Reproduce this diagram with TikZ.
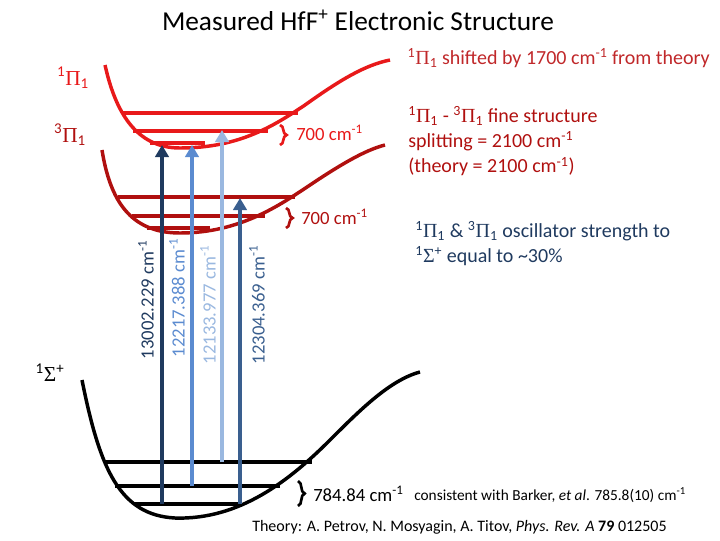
\documentclass[tikz,border=0pt]{standalone}
\usepackage{fontspec}
\setmainfont{Carlito}
\newfontfamily\serifgk{Liberation Serif}
\usetikzlibrary{decorations.pathreplacing,arrows.meta}
\definecolor{brightred}{HTML}{E8191A}
\definecolor{darkred}{HTML}{B0100F}
\definecolor{navy}{HTML}{1F3A5F}
\definecolor{midblue}{HTML}{5B8BD0}
\definecolor{lightblue}{HTML}{9AB8E0}
\definecolor{steel}{HTML}{3A5F8F}
\definecolor{txtred}{HTML}{C0282A}
\newcommand{\PI}{{\serifgk Π}}
\newcommand{\SIG}{{\serifgk Σ}}
\newcommand{\cmi}{cm\textsuperscript{-1}}
\begin{document}
\begin{tikzpicture}[x=0.75pt,y=-0.75pt,
  curve/.style={line width=2.6pt},
  lvl/.style={line width=2.6pt},
  trans/.style={line width=3pt,-{Triangle[length=9pt,width=10pt]}},
  brc/.style={decorate,decoration={brace,amplitude=5pt},line width=2pt},
  lbl/.style={font=\fontsize{14}{16}\selectfont,inner sep=0pt},
  st/.style={font=\fontsize{16}{18}\selectfont,inner sep=0pt}]
\useasboundingbox (0,0) rectangle (720,540);
\node (title) at (358,20) {\fontsize{20.5}{24}\selectfont Measured HfF\textsuperscript{+} Electronic Structure};
% black curve
\draw[curve,black] (82,380) .. controls (100,470) and (120,515) .. (175,518) .. controls (240,520) and (290,480) .. (330,440) .. controls (360,410) and (390,380) .. (420,372);
\draw[lvl] (104,462) -- (312,462);
\draw[lvl] (115,486) -- (280,486);
\draw[lvl] (135,504) -- (240,504);
% dark red curve
\draw[curve,darkred] (102,150) .. controls (110,200) and (130,233) .. (180,233) .. controls (240,233) and (280,205) .. (310,185) .. controls (340,165) and (365,150) .. (385,145);
\draw[lvl,darkred] (118,197) -- (295,197);
\draw[lvl,darkred] (132,216) -- (265,216);
\draw[lvl,darkred] (147,228) -- (210,228);
% bright red curve
\draw[curve,brightred] (105,65) .. controls (115,110) and (135,148) .. (180,148) .. controls (240,148) and (275,125) .. (305,105) .. controls (340,80) and (365,65) .. (390,60);
\draw[lvl,brightred] (122,113) -- (298,113);
\draw[lvl,brightred] (133,131) -- (268,131);
\draw[lvl,brightred] (150,143) -- (205,143);
% transitions
\coordinate (a1s) at (162,504); \coordinate (a1e) at (162,145);
\coordinate (a2s) at (192,486); \coordinate (a2e) at (192,145);
\coordinate (a3s) at (222,462); \coordinate (a3e) at (222,130);
\coordinate (a4s) at (240,504); \coordinate (a4e) at (240,198);
\draw[trans,navy] (a1s) -- (a1e);
\draw[trans,midblue] (a2s) -- (a2e);
\draw[trans,lightblue] (a3s) -- (a3e);
\draw[trans,steel] (a4s) -- (a4e);
\node[lbl,rotate=90,navy] (l1) at (146,300) {13002.229 \cmi};
\node[lbl,rotate=90,midblue] (l2) at (177,298) {12217.388 \cmi};
\node[lbl,rotate=90,lightblue] (l3) at (208,305) {12133.977 \cmi};
\node[lbl,rotate=90,steel] (l4) at (257,305) {12304.369 \cmi};
% braces
\draw[brc,brightred] (280,125) -- (280,145);
\node[lbl,anchor=west,brightred] (b1) at (296,133) {700 \cmi};
\draw[brc,darkred] (286,208) -- (286,228);
\node[lbl,anchor=west,darkred] (b2) at (301,217) {700 \cmi};
\draw[brc,black] (298,481) -- (298,506);
\node[lbl,anchor=west] (b3) at (313,494) {784.84 \cmi};
\node[anchor=west,inner sep=0pt,font=\fontsize{11.5}{13}\selectfont] (bk) at (414,495) {consistent with Barker, \textit{et al}. 785.8(10) \cmi};
% state labels
\node[st,brightred] (s1) at (73,78) {\textsuperscript{1}\PI\textsubscript{1}};
\node[st,darkred] (s2) at (70,135) {\textsuperscript{3}\PI\textsubscript{1}};
\node[st] (s3) at (50,373) {\textsuperscript{1}\SIG\textsuperscript{+}};
% right texts
\node[lbl,anchor=east,txtred,font=\fontsize{15}{17}\selectfont] (t1) at (710,58) {\textsuperscript{1}\PI\textsubscript{1} shifted by 1700 \cmi{} from theory};
\node[lbl,anchor=north west,align=left,darkred,font=\fontsize{15}{19}\selectfont] (t2) at (408,106) {\textsuperscript{1}\PI\textsubscript{1} - \textsuperscript{3}\PI\textsubscript{1} fine structure\\splitting = 2100 \cmi\\(theory = 2100 \cmi)};
\node[lbl,anchor=north west,align=left,navy,font=\fontsize{15}{19}\selectfont] (t3) at (415,221) {\textsuperscript{1}\PI\textsubscript{1} \& \textsuperscript{3}\PI\textsubscript{1} oscillator strength to\\\textsuperscript{1}\SIG\textsuperscript{+} equal to \textasciitilde30\%};
\node[anchor=west,inner sep=0pt,font=\fontsize{12}{14}\selectfont] (th) at (252,527) {Theory: A. Petrov, N. Mosyagin, A. Titov, \textit{Phys. Rev. A} \textbf{79} 012505};
\end{tikzpicture}
\end{document}
